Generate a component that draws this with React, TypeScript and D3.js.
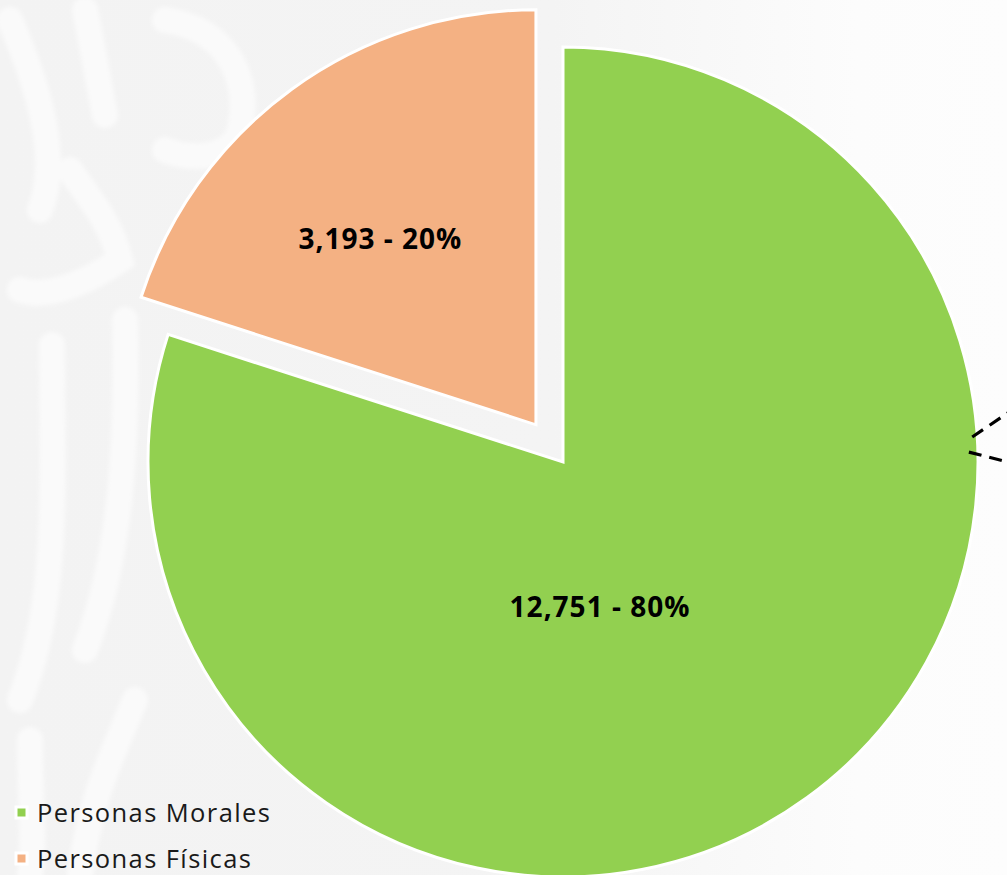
import React from "react";
import * as d3 from "d3";

const categories = ["Personas Morales", "Personas Físicas"];
const values = [12751, 3193];
const percents = ["80%", "20%"];
const colors = ["#92D050", "#F4B183"];

const W = 1007;
const H = 875;
const CX = 563;
const CY = 462;
const R = 415;
const EXPLODE = [0, 46];
// label placement (radius fraction, angle shift in degrees) per slice
const LABEL_R = [0.36, 0.585];
const LABEL_SHIFT = [21.7, -3.8];

const fmt = d3.format(",");

export default function App() {
  const pie = d3.pie<number>().sort(null).value((d) => d);
  const arcs = pie(values);
  const arcGen = d3.arc<d3.PieArcDatum<number>>().innerRadius(0).outerRadius(R);

  const slices = arcs.map((a, i) => {
    const mid = (a.startAngle + a.endAngle) / 2;
    const ox = EXPLODE[i] * Math.sin(mid);
    const oy = -EXPLODE[i] * Math.cos(mid);
    const la = mid + (LABEL_SHIFT[i] * Math.PI) / 180;
    const lr = LABEL_R[i] * R;
    return {
      a,
      i,
      ox,
      oy,
      lx: ox + lr * Math.sin(la),
      ly: oy - lr * Math.cos(la),
    };
  });

  // dashed connector lines at the right edge (polar from pie centre)
  const polar = (deg: number, r: number) => {
    const t = (deg * Math.PI) / 180;
    return [CX + r * Math.sin(t), CY - r * Math.cos(t)];
  };
  const c1a = polar(86.5, 410);
  const c2a = polar(88.6, 406);
  const line1 = [c1a, [c1a[0] + 40, c1a[1] - 27]];
  const line2 = [c2a, [c2a[0] + 45, c2a[1] + 11.5]];

  return (
    <svg
      width={W}
      height={H}
      style={{ position: "absolute", left: 0, top: 0 }}
      xmlns="http://www.w3.org/2000/svg"
    >
      <defs>
        <linearGradient id="bg" x1="0" y1="0" x2="1" y2="0">
          <stop offset="0" stopColor="#f3f3f3" />
          <stop offset="0.55" stopColor="#f4f4f4" />
          <stop offset="0.85" stopColor="#fcfcfc" />
          <stop offset="1" stopColor="#fdfdfd" />
        </linearGradient>
        <filter id="soft" x="-10%" y="-10%" width="120%" height="120%">
          <feGaussianBlur stdDeviation="2" />
        </filter>
      </defs>
      <rect x={0} y={0} width={W} height={H} fill="url(#bg)" />
      {/* faint watermark strokes */}
      <g fill="none" stroke="#fafafa" strokeLinecap="round" strokeWidth={26} filter="url(#soft)">
        <path d="M10,20 C40,90 60,160 40,210" />
        <path d="M85,10 C95,60 100,90 105,115" />
        <path d="M165,20 C230,30 250,80 240,130 C230,160 190,160 165,150" />
        <path d="M70,170 C90,200 110,220 120,260 C90,280 50,300 20,290" />
        <path d="M52,345 C52,480 60,600 20,700" />
        <path d="M125,320 C128,450 120,560 85,650" />
        <path d="M135,700 C110,760 90,800 80,875" />
        <path d="M30,740 C30,800 35,840 30,875" />
      </g>

      <g transform={`translate(${CX},${CY})`}>
        {slices.map((s) => (
          <path
            key={categories[s.i]}
            d={arcGen(s.a) || ""}
            transform={`translate(${s.ox},${s.oy})`}
            fill={colors[s.i]}
            stroke="#ffffff"
            strokeWidth={3}
            strokeLinejoin="miter"
          />
        ))}
        {slices.map((s) => (
          <text
            key={"l" + s.i}
            x={s.lx}
            y={s.ly}
            dy="0.36em"
            textAnchor="middle"
            fontFamily="'Open Sans', sans-serif"
            fontWeight={700}
            fontSize={28}
            letterSpacing={1}
            fill="#000"
          >
            {`${fmt(values[s.i])} - ${percents[s.i]}`}
          </text>
        ))}
      </g>

      {[line1, line2].map((ln, k) => (
        <line
          key={"c" + k}
          x1={ln[0][0]}
          y1={ln[0][1]}
          x2={ln[1][0]}
          y2={ln[1][1]}
          stroke="#000"
          strokeWidth={3.2}
          strokeDasharray="13 8"
        />
      ))}

      <g>
        {categories.map((c, i) => (
          <g key={c} transform={`translate(0,${i * 46})`}>
            <rect x={16} y={807} width={11} height={11} fill={colors[i]} stroke="#fff" strokeWidth={3} />
            <text
              x={37}
              y={822}
              fontFamily="'Open Sans', sans-serif"
              fontSize={25.5}
              letterSpacing={1.4}
              fill="#1a1a1a"
            >
              {c}
            </text>
          </g>
        ))}
      </g>
    </svg>
  );
}
